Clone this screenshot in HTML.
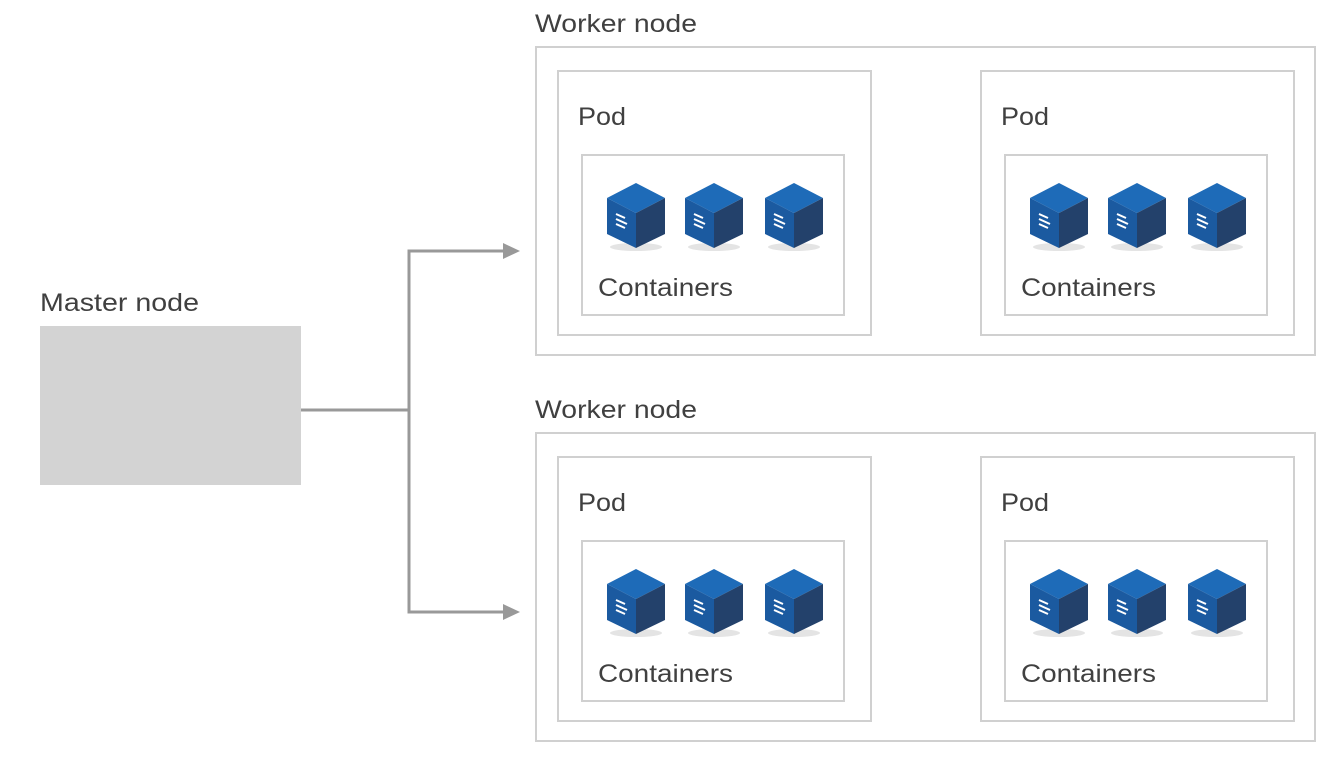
<!DOCTYPE html><html><head><style>body{margin:0;background:#fff}svg text{font-family:"Liberation Sans",sans-serif;fill:#404040}</style></head><body>
<svg width="1342" height="777" viewBox="0 0 1342 777" xmlns="http://www.w3.org/2000/svg">
<defs>
<g id="cube">
<ellipse cx="0" cy="64" rx="26" ry="4" fill="#e4e4e4"/>
<polygon points="0,0 29,15 0,30 -29,15" fill="#1e6bb8"/>
<polygon points="-29,15 0,30 0,65 -29,51" fill="#1b5aa0"/>
<polygon points="29,15 0,30 0,65 29,51" fill="#23416b"/>
<g stroke="#fff" stroke-width="2"><line x1="-20" y1="31" x2="-11" y2="35"/><line x1="-20" y1="36" x2="-9" y2="41"/><line x1="-20" y1="41" x2="-11" y2="45"/></g>
</g>
<g id="pod" fill="none" stroke="#d0d0d0" stroke-width="2">
<rect x="0" y="0" width="313" height="264"/>
<rect x="24" y="84" width="262" height="160"/>
</g>
</defs>
<text x="40" y="311" font-size="25" textLength="159" lengthAdjust="spacingAndGlyphs">Master node</text>
<rect x="40" y="326" width="261" height="159" fill="#d3d3d3"/>
<g stroke="#999" stroke-width="3" fill="none"><polyline points="301,410 409,410"/><polyline points="507,251 409,251 409,612 507,612"/></g>
<polygon points="520,251 503,243 503,259" fill="#999"/><polygon points="520,612 503,604 503,620" fill="#999"/>
<g id="w1">
<text x="535" y="32" font-size="25" textLength="162" lengthAdjust="spacingAndGlyphs">Worker node</text>
<rect x="536" y="47" width="779" height="308" fill="none" stroke="#d0d0d0" stroke-width="2"/>
<use href="#pod" x="558" y="71"/><use href="#pod" x="981" y="71"/>
<text x="578" y="125" font-size="25" textLength="48" lengthAdjust="spacingAndGlyphs">Pod</text><text x="1001" y="125" font-size="25" textLength="48" lengthAdjust="spacingAndGlyphs">Pod</text>
<text x="598" y="296" font-size="25" textLength="135" lengthAdjust="spacingAndGlyphs">Containers</text><text x="1021" y="296" font-size="25" textLength="135" lengthAdjust="spacingAndGlyphs">Containers</text>
<use href="#cube" x="636" y="183"/><use href="#cube" x="714" y="183"/><use href="#cube" x="794" y="183"/>
<use href="#cube" x="1059" y="183"/><use href="#cube" x="1137" y="183"/><use href="#cube" x="1217" y="183"/>
</g>
<use href="#w1" y="386"/>
</svg>
</body></html>
